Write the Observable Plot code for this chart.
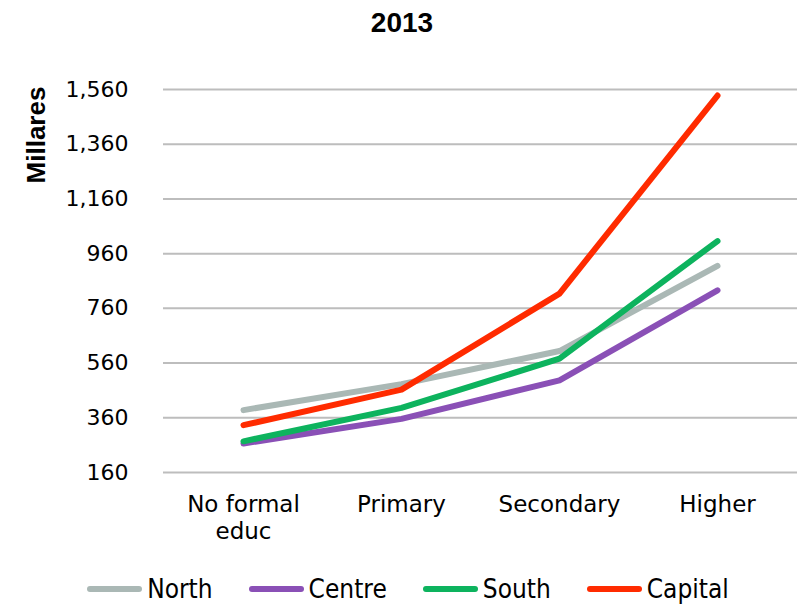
<!DOCTYPE html>
<html>
<head>
<meta charset="utf-8">
<script src="https://cdn.jsdelivr.net/npm/d3@7"></script>
<script src="https://cdn.jsdelivr.net/npm/@observablehq/plot@0.6"></script>
<style>
  html, body { margin: 0; padding: 0; background: #fff; }
  body { width: 804px; height: 606px; overflow: hidden; font-family: "DejaVu Sans", sans-serif; }
  #title { height: 46px; line-height: 46px; text-align: center; font-family: "Liberation Sans", Arial, sans-serif; font-weight: bold; font-size: 28px; color: #000; }
  #chart { position: relative; height: 506px; }
  #ylabel { position: absolute; left: 36px; top: 89px; transform: translate(-50%, -50%) rotate(-90deg); font-family: "Liberation Sans", Arial, sans-serif; font-weight: bold; font-size: 26px; white-space: nowrap; }
  #legend { height: 74px; display: flex; justify-content: center; align-items: center; gap: 36px; font-family: "DejaVu Sans", sans-serif; font-stretch: condensed; font-size: 26px; line-height: 30px; color: #000; padding-left: 12px; }
  .item { display: flex; align-items: center; gap: 5px; }
  .sw { width: 55px; height: 6px; border-radius: 3px; }
</style>
</head>
<body>
<div id="title"></div>
<div id="chart"><div id="ylabel"></div></div>
<div id="legend"></div>
<script>
const titleText = "2013";
const yLabelText = "Millares";
const categories = ["No formal educ", "Primary", "Secondary", "Higher"];
const categoryLabels = ["No formal\neduc", "Primary", "Secondary", "Higher"];
const seriesNames = ["North", "Centre", "South", "Capital"];
const seriesColors = ["#AAB8B5", "#8A50B6", "#0DB35E", "#FF2B00"];
const north = [388, 483, 604, 915];
const centre = [266, 356, 497, 826];
const south = [274, 396, 576, 1006];
const capital = [333, 463, 814, 1538];
const yTicks = [160, 360, 560, 760, 960, 1160, 1360, 1560];

const seriesValues = [north, centre, south, capital];
const data = seriesNames.flatMap((s, i) =>
  categories.map((c, j) => ({series: s, category: c, value: seriesValues[i][j]}))
);
const labelOf = new Map(categories.map((c, i) => [c, categoryLabels[i]]));

document.getElementById("title").textContent = titleText;
document.getElementById("ylabel").textContent = yLabelText;

const plot = Plot.plot({
  width: 804,
  height: 506,
  marginLeft: 163,
  marginRight: 7,
  marginTop: 43,
  marginBottom: 80,
  style: {fontFamily: "DejaVu Sans, sans-serif", color: "#000", background: "#fff"},
  x: {type: "point", domain: categories, padding: 0.5},
  y: {domain: [160, 1560]},
  color: {domain: seriesNames, range: seriesColors},
  marks: [
    Plot.ruleY(yTicks, {stroke: "#BDBDBD", strokeWidth: 2}),
    Plot.axisY({ticks: yTicks, tickSize: 0, tickPadding: 35, fontSize: 22, tickFormat: d3.format(","), label: null}),
    Plot.axisX({tickSize: 0, tickPadding: 21, fontSize: 23, lineHeight: 1.15, tickFormat: d => labelOf.get(d), label: null}),
    Plot.line(data, {x: "category", y: "value", z: "series", stroke: "series", strokeWidth: 6, strokeLinecap: "round", strokeLinejoin: "round"})
  ]
});
document.getElementById("chart").appendChild(plot);

const legend = document.getElementById("legend");
seriesNames.forEach((s, i) => {
  const item = document.createElement("div");
  item.className = "item";
  const sw = document.createElement("div");
  sw.className = "sw";
  sw.style.background = seriesColors[i];
  const t = document.createElement("span");
  t.textContent = s;
  item.appendChild(sw);
  item.appendChild(t);
  legend.appendChild(item);
});
</script>
</body>
</html>
